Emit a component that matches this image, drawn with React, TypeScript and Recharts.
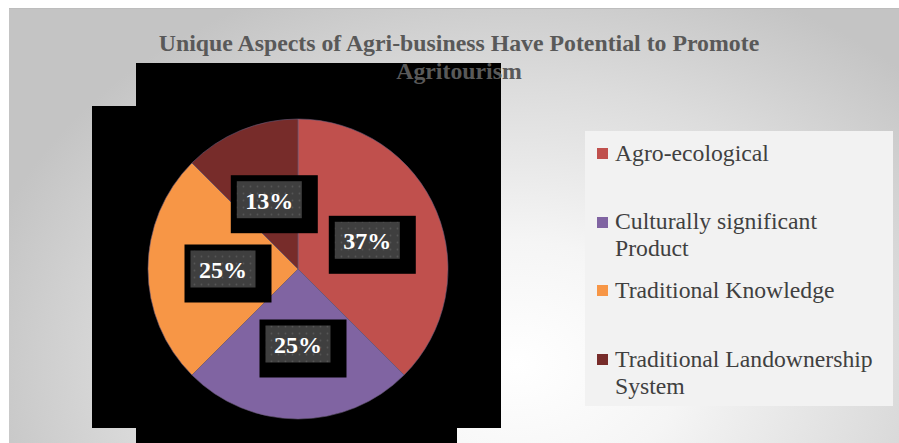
import React from "react";
import { PieChart, Pie, Legend } from "recharts";

const CATEGORIES = [
  "Agro-ecological",
  "Culturally significant Product",
  "Traditional Knowledge",
  "Traditional Landownership System",
];
const SHARES = [37.5, 25, 25, 12.5];
const PCT_LABELS = ["37%", "25%", "25%", "13%"];
const COLORS = ["#C0504D", "#8064A2", "#F79646", "#772C2A"];

const TITLE = "Unique Aspects of Agri-business Have Potential to Promote Agritourism";

const SERIF = '"Liberation Serif", "Times New Roman", serif';
const RAD = Math.PI / 180;

const data = CATEGORIES.map((name, i) => ({
  name,
  value: SHARES[i],
  fill: COLORS[i],
}));

// black blocks sitting behind the pie in the original export
const BLOCKS = [
  { left: 127, top: 54, width: 365, height: 365 },
  { left: 83, top: 97, width: 44, height: 322 },
  { left: 127, top: 419, width: 321, height: 16 },
];

const renderLabel = (props: any) => {
  const { cx, cy, midAngle, outerRadius, index } = props;
  const r = outerRadius * 0.5;
  const x = cx + r * Math.cos(-midAngle * RAD);
  const y = cy + r * Math.sin(-midAngle * RAD);
  const pid = `dots-${index}`;
  return (
    <g key={pid}>
      <defs>
        <pattern id={pid} width={7} height={7} patternUnits="userSpaceOnUse">
          <rect width={7} height={7} fill="#3f3f3f" />
          <circle cx={3.5} cy={3.5} r={0.9} fill="#565656" />
        </pattern>
      </defs>
      <rect x={x - 38.5} y={y - 24.5} width={87} height={58} fill="#000" />
      <rect x={x - 32.5} y={y - 18.5} width={65} height={37} fill={`url(#${pid})`} />
      <text
        x={x}
        y={y + 1}
        textAnchor="middle"
        dominantBaseline="central"
        fill="#fff"
        fontSize={24}
        fontWeight="bold"
        fontFamily={SERIF}
      >
        {PCT_LABELS[index]}
      </text>
    </g>
  );
};

const renderLegend = () => (
  <div
    style={{
      width: 308,
      height: 275,
      background: "#f2f2f2",
      boxSizing: "border-box",
      paddingTop: 8.5,
      fontFamily: SERIF,
      color: "#404040",
    }}
  >
    {CATEGORIES.map((name, i) => (
      <div
        key={name}
        style={{
          position: "relative",
          height: 68.7,
          paddingLeft: 30,
          fontSize: 23.7,
          lineHeight: "27px",
        }}
      >
        <span
          style={{
            position: "absolute",
            left: 12,
            top: 8.5,
            width: 11,
            height: 11,
            background: COLORS[i],
          }}
        />
        <div style={{ width: 265 }}>{name}</div>
      </div>
    ))}
  </div>
);

export default function App() {
  return (
    <div
      style={{
        position: "absolute",
        left: 9,
        top: 8,
        width: 890,
        height: 435,
        boxSizing: "border-box",
        borderTop: "1px solid #bdbdbd",
        background:
          "radial-gradient(ellipse 62% 95% at 57% 82%, #ffffff 0%, #f5f5f5 30%, #dcdcdc 68%, #c4c4c4 100%)",
        overflow: "hidden",
      }}
    >
      {BLOCKS.map((b, i) => (
        <div key={i} style={{ position: "absolute", background: "#000", ...b }} />
      ))}

      <div style={{ position: "absolute", left: 0, top: -1 }}>
        <PieChart width={890} height={435} margin={{ top: 0, right: 0, bottom: 0, left: 0 }}>
          <Pie
            data={data}
            dataKey="value"
            nameKey="name"
            cx={289}
            cy={261}
            outerRadius={150}
            startAngle={90}
            endAngle={-270}
            stroke="#6a5a7a"
            strokeWidth={0.6}
            label={renderLabel}
            labelLine={false}
            isAnimationActive={false}
          />
          <Legend
            layout="vertical"
            align="right"
            verticalAlign="top"
            content={renderLegend}
            wrapperStyle={{ left: 576, top: 123, width: 308, height: 275 }}
          />
        </PieChart>
      </div>

      <div
        style={{
          position: "absolute",
          left: 120,
          top: 20,
          width: 660,
          textAlign: "center",
          fontFamily: SERIF,
          fontWeight: "bold",
          fontSize: 23.8,
          lineHeight: "28px",
          color: "#595959",
        }}
      >
        {TITLE}
      </div>
    </div>
  );
}
